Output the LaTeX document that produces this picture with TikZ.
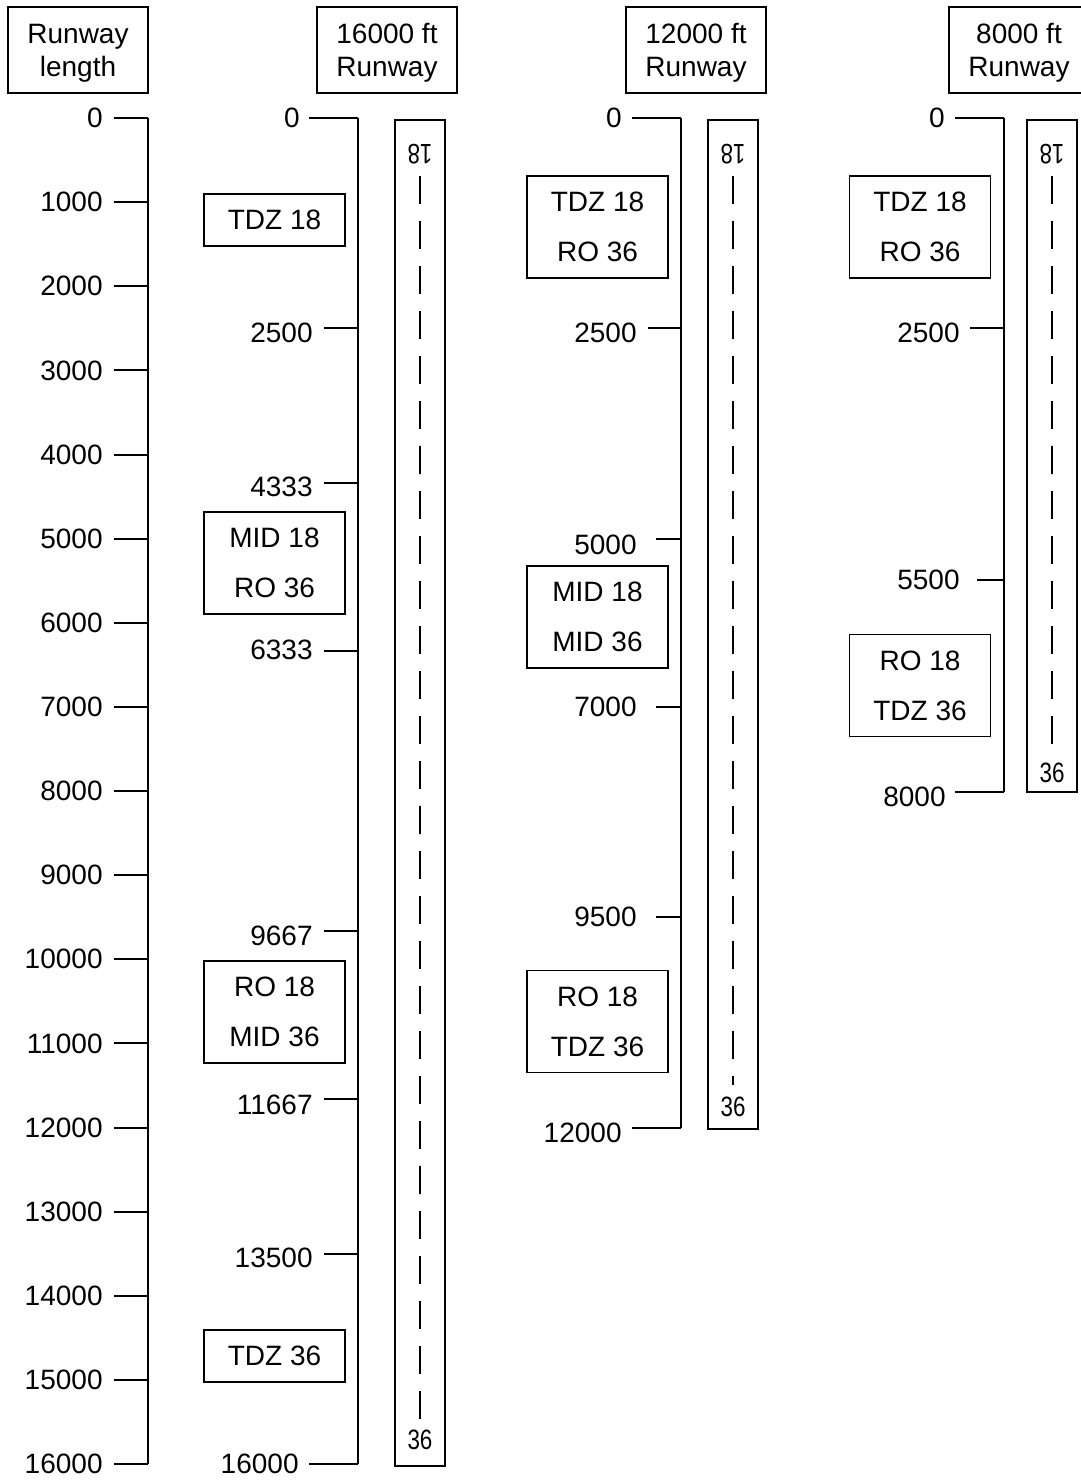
\documentclass[tikz,border=0pt]{standalone}
\usepackage{fontspec}
\usepackage{graphicx}
\setmainfont{Liberation Sans}
\begin{document}
\begin{tikzpicture}[x=0.5pt,y=-0.5pt,
  lbl/.style={font=\fontsize{14}{16}\selectfont, inner sep=0pt, anchor=east},
  scaleline/.style={line width=1pt},
  hdr/.style={draw, line width=0.8pt, minimum width=70pt, minimum height=43pt, inner sep=0pt},
  hdrtxt/.style={inner sep=0pt, align=center, font=\fontsize{14}{16.5}\selectfont},
  zone/.style={draw, line width=0.8pt, minimum width=70.5pt, inner sep=0pt, align=center, font=\fontsize{14}{25}\selectfont},
  zone1/.style={zone, minimum height=26pt},
  zone2/.style={zone, minimum height=51pt},
  strip/.style={draw, line width=1pt},
  cline/.style={line width=0.55pt, dash pattern=on 14pt off 8.5pt},
  rwnum/.style={font=\fontsize{14}{16}\selectfont, inner sep=0pt}
]
\useasboundingbox (0,0) rectangle (1081,1480);

% headers
\node[hdr] (h1) at (78,50) {};
\node[hdrtxt] (h1t) at (78,53) {Runway\\length};
\node[hdr] (h2) at (387,50) {};
\node[hdrtxt] (h2t) at (387,53) {16000 ft\\Runway};
\node[hdr] (h3) at (696,50) {};
\node[hdrtxt] (h3t) at (696,53) {12000 ft\\Runway};
\node[hdr] (h4) at (1019,50) {};
\node[hdrtxt] (h4t) at (1019,53) {8000 ft\\Runway};

% ---- column 1 : runway length scale
\coordinate (s1t) at (148,118);
\coordinate (s1b) at (148,1464);
\draw[scaleline] (s1t) -- (s1b);
\foreach \k in {0,...,16}{
  \pgfmathsetmacro{\yy}{118+\k*84.125}
  \pgfmathtruncatemacro{\vv}{\k*1000}
  \coordinate (t1a\k) at (114,\yy);
  \coordinate (t1b\k) at (148,\yy);
  \draw[scaleline] (t1a\k) -- (t1b\k);
  \node[lbl] (l1\k) at (103,\yy) {\vv};
}

% ---- column 2 : 16000 ft runway
\coordinate (s2t) at (358,118);
\coordinate (s2b) at (358,1464);
\draw[scaleline] (s2t) -- (s2b);
\foreach \nm/\txt/\ty/\tky/\tx/\kx in {
  a/0/118/118/300/309,
  b/2500/333/328/313/324,
  c/4333/487/483/313/324,
  d/6333/650/651/313/324,
  e/9667/936/931/313/324,
  f/11667/1105/1099/313/324,
  g/13500/1258/1254/313/324,
  h/16000/1464/1464/299/309}{
  \coordinate (t2a\nm) at (\kx,\tky);
  \coordinate (t2b\nm) at (358,\tky);
  \draw[scaleline] (t2a\nm) -- (t2b\nm);
  \node[lbl] (l2\nm) at (\tx,\ty) {\txt};
}
\node[zone1] (z2a) at (274.5,220) {TDZ 18};
\node[zone2] (z2b) at (274.5,563) {MID 18\\RO 36};
\node[zone2] (z2c) at (274.5,1012) {RO 18\\MID 36};
\node[zone1] (z2d) at (274.5,1356) {TDZ 36};

\draw[strip] (395,120) rectangle (445,1466);
\node[rwnum, rotate=180] (r2t) at (420,154) {\scalebox{0.8}[1]{18}};
\node[rwnum] (r2b) at (420,1440) {\scalebox{0.8}[1]{36}};
\coordinate (c2t) at (420,176);
\coordinate (c2b) at (420,1420);
\draw[cline] (c2t) -- (c2b);

% ---- column 3 : 12000 ft runway
\coordinate (s3t) at (681,118);
\coordinate (s3b) at (681,1128);
\draw[scaleline] (s3t) -- (s3b);
\foreach \nm/\txt/\ty/\tky/\tx/\kx in {
  a/0/118/118/622/632,
  b/2500/333/328/637/648,
  c/5000/545/539/637/656,
  d/7000/707/707/637/656,
  e/9500/917/917/637/656,
  f/12000/1133/1128/622/632}{
  \coordinate (t3a\nm) at (\kx,\tky);
  \coordinate (t3b\nm) at (681,\tky);
  \draw[scaleline] (t3a\nm) -- (t3b\nm);
  \node[lbl] (l3\nm) at (\tx,\ty) {\txt};
}
\node[zone2] (z3a) at (597.5,227) {TDZ 18\\RO 36};
\node[zone2] (z3b) at (597.5,617) {MID 18\\MID 36};
\node[zone2] (z3c) at (597.5,1021.5) {RO 18\\TDZ 36};

\draw[strip] (708,120) rectangle (758,1129);
\node[rwnum, rotate=180] (r3t) at (733,154) {\scalebox{0.8}[1]{18}};
\node[rwnum] (r3b) at (733,1107) {\scalebox{0.8}[1]{36}};
\coordinate (c3t) at (733,176);
\coordinate (c3b) at (733,1085);
\draw[cline] (c3t) -- (c3b);

% ---- column 4 : 8000 ft runway
\coordinate (s4t) at (1004,118);
\coordinate (s4b) at (1004,792);
\draw[scaleline] (s4t) -- (s4b);
\foreach \nm/\txt/\ty/\tky/\tx/\kx in {
  a/0/118/118/945/955,
  b/2500/333/328/960/970,
  c/5500/580/580/960/977,
  d/8000/797/792/946/955}{
  \coordinate (t4a\nm) at (\kx,\tky);
  \coordinate (t4b\nm) at (1004,\tky);
  \draw[scaleline] (t4a\nm) -- (t4b\nm);
  \node[lbl] (l4\nm) at (\tx,\ty) {\txt};
}
\node[zone2] (z4a) at (920,227) {TDZ 18\\RO 36};
\node[zone2] (z4b) at (920,685.5) {RO 18\\TDZ 36};

\draw[strip] (1027,120) rectangle (1077,792);
\node[rwnum, rotate=180] (r4t) at (1052,154) {\scalebox{0.8}[1]{18}};
\node[rwnum] (r4b) at (1052,773) {\scalebox{0.8}[1]{36}};
\coordinate (c4t) at (1052,176);
\coordinate (c4b) at (1052,752);
\draw[cline] (c4t) -- (c4b);
\end{tikzpicture}
\end{document}
